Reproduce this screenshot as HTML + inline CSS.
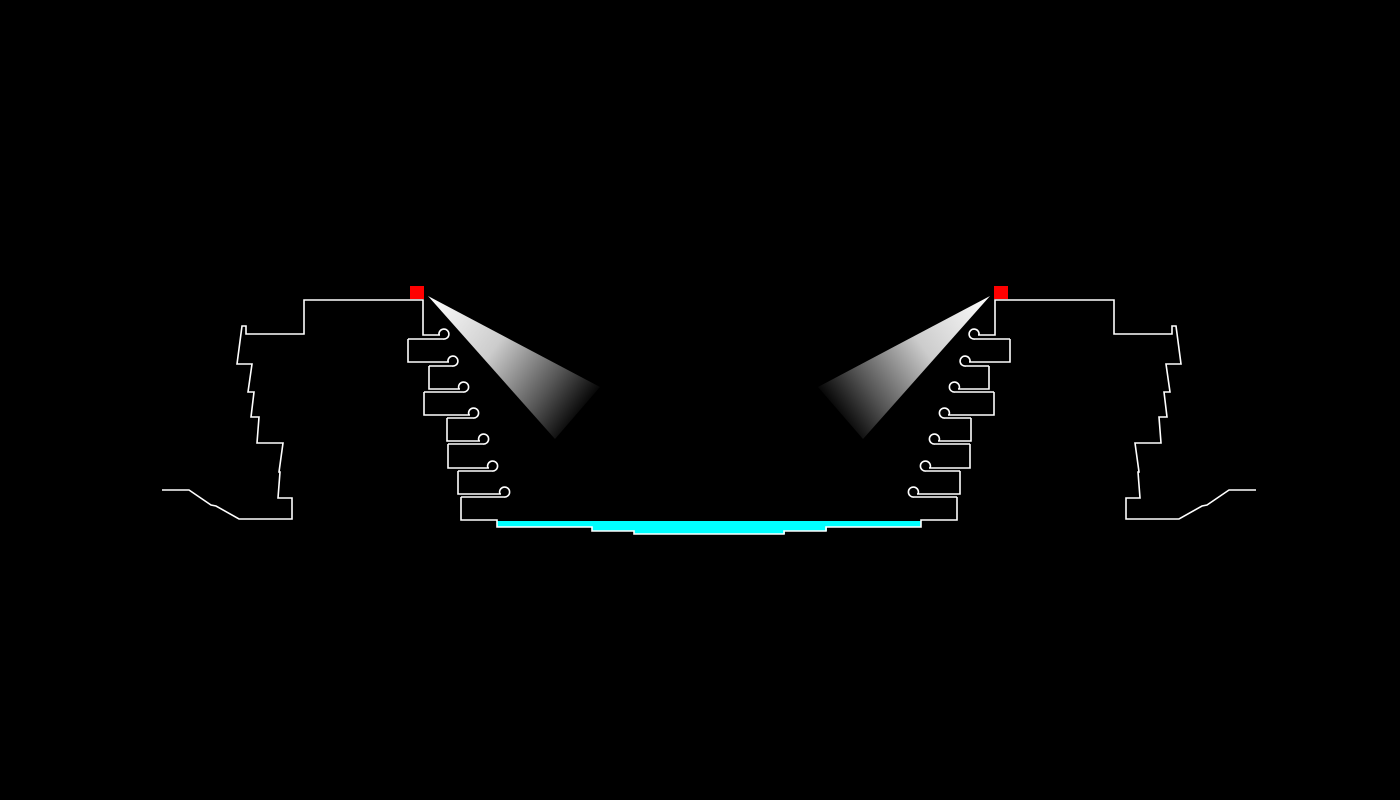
<!DOCTYPE html>
<html><head><meta charset="utf-8"><style>html,body{margin:0;padding:0;background:#000;}svg{display:block}</style></head>
<body>
<svg width="1400" height="800" viewBox="0 0 1400 800" xmlns="http://www.w3.org/2000/svg">
<defs>
<linearGradient id="cg" gradientUnits="userSpaceOnUse" x1="428" y1="296" x2="598" y2="420">
<stop offset="0" stop-color="#fff"/>
<stop offset="0.4" stop-color="#ccc"/>
<stop offset="0.72" stop-color="#555"/>
<stop offset="0.93" stop-color="#000"/>
</linearGradient>
<g id="half">
<polygon points="428,296 600,387 555,439" fill="url(#cg)"/>
<g fill="none" stroke="#fff" stroke-width="1.6" stroke-linejoin="miter">
<path d="M162,490 H189 L211,505 L216,506 L239,519 H292 V498 H278 L280,472 H279 L283,443 H257 L259,417 H251 L254,392 H248 L252,364 H237 L242,326 H246 V334 H304 V300 H423 V335 H440"/>
<path d="M408,339 H443 A5 5 0 1 0 439,335"/>
<path d="M408,339 V362 H449"/>
<path d="M429,366 H452 A5 5 0 1 0 448,362"/>
<path d="M429,366 V389 H460"/>
<path d="M424,392 H463 A5 5 0 1 0 459,389"/>
<path d="M424,392 V415 H470"/>
<path d="M447,418 H473 A5 5 0 1 0 469,415"/>
<path d="M447,418 V441 H480"/>
<path d="M448,444 H483 A5 5 0 1 0 479,441"/>
<path d="M448,444 V468 H489"/>
<path d="M458,471 H492 A5 5 0 1 0 488,468"/>
<path d="M458,471 V494 H501"/>
<path d="M461,497 H504 A5 5 0 1 0 500,494"/>
<path d="M461,497 V520 H497 V527 H592 V531 H634 V534 H709"/>
</g>
<rect x="410" y="286" width="14" height="13" fill="#f00"/>
</g>
</defs>
<rect width="1400" height="800" fill="#000"/>
<path d="M497,521 H921 V527 H827 V531 H785 V534 H634 V531 H592 V527 H497 Z" fill="#0ff"/>
<use href="#half"/>
<use href="#half" transform="translate(1418,0) scale(-1,1)"/>
</svg>
</body></html>
